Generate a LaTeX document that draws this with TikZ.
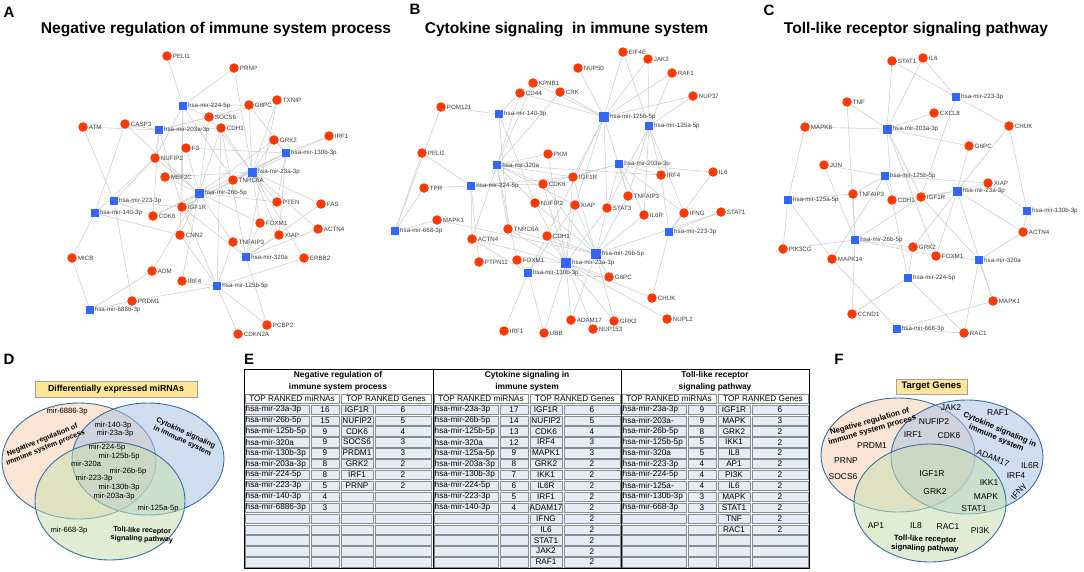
\documentclass[tikz,border=0pt]{standalone}
\usepackage{fontspec}
\setmainfont{Liberation Sans}
\usetikzlibrary{backgrounds}

\definecolor{genered}{HTML}{FF3A00}
\definecolor{mirblue}{HTML}{3366FF}
\definecolor{edgegray}{HTML}{CBCBCB}
\definecolor{labelgray}{HTML}{3C3C3C}
\definecolor{vennblue}{HTML}{3A6EA5}
\definecolor{negfill}{HTML}{F8D0B4}
\definecolor{cytfill}{HTML}{ADC3E4}
\definecolor{tollfill}{HTML}{C7E0B1}
\definecolor{boxyellow}{HTML}{FFE699}
\definecolor{boxgray}{HTML}{A0A0A0}
\definecolor{cellblue}{HTML}{E6ECF5}
\definecolor{gridgray}{HTML}{8C8C8C}

\tikzset{
  panelletter/.style={font=\fontsize{15}{17}\selectfont\bfseries, inner sep=0pt},
  paneltitle/.style={font=\fontsize{15.6}{18}\selectfont\bfseries, inner sep=0pt},
  netlbl/.style={font=\fontsize{6.2}{7}\selectfont, text=labelgray, inner sep=0.8pt},
  gene/.style={circle, fill=genered, inner sep=0pt, minimum size=#1},
  gene/.default=9.5pt,
  mirna/.style={rectangle, fill=mirblue, inner sep=0pt, minimum size=#1},
  mirna/.default=8pt,
  edge/.style={draw=edgegray, line width=0.5pt},
  venn/.style={draw=vennblue, line width=0.9pt, fill opacity=0.55},
  venntxt/.style={font=\fontsize{7.6}{9}\selectfont, inner sep=0pt},
  vennbold/.style={font=\fontsize{7.2}{8.4}\selectfont\bfseries, align=center, inner sep=0pt},
  ftxt/.style={font=\fontsize{8.5}{10}\selectfont, inner sep=0pt},
  fbold/.style={font=\fontsize{7.8}{9}\selectfont\bfseries, align=center, inner sep=0pt},
  keybox/.style={draw=boxgray, fill=boxyellow, line width=0.8pt, inner sep=0pt},
  cellline/.style={draw=gridgray, line width=0.4pt},
  tableframe/.style={draw=black, line width=0.8pt},
  tabtxt/.style={font=\fontsize{8.2}{9}\selectfont, inner sep=0pt},
  tabtitle/.style={font=\fontsize{8.4}{9}\selectfont\bfseries, inner sep=0pt},
}

\begin{document}
\begin{tikzpicture}[x=1pt, y=-1pt]
\useasboundingbox (0,0) rectangle (1084,571);

% panel letters and titles
\foreach \lt/\x/\y in {A/9/12, B/415/9, C/769/10, D/9/359, E/249/359, F/839/359}
  \node[panelletter] (let\lt) at (\x,\y) {\lt};
\node[paneltitle] (titleA) at (216,29) {Negative regulation of immune system process};
\node[paneltitle] (titleB) at (566.5,29) {Cytokine signaling\ \ in immune system};
\node[paneltitle] (titleC) at (916,29) {Toll-like receptor signaling pathway};

% A: negative regulation network
\foreach \nm/\x/\y/\lab/\sz in {224/183/106/hsa-mir-224-5p/8pt, 203a/159/130/hsa-mir-203a-3p/8pt,
    130b/286/153/hsa-mir-130b-3p/8pt, 23a/252/172/hsa-mir-23a-3p/9pt, 26b/199/193/hsa-mir-26b-5p/9pt,
    223/114/201/hsa-mir-223-3p/8pt, 140/95/213/hsa-mir-140-3p/7.5pt, 320a/246/257/hsa-mir-320a/8pt,
    125b/217/286/hsa-mir-125b-5p/8.5pt, 6886/90/310/hsa-mir-6886-3p/7.5pt}
  \node[mirna=\sz, label={[netlbl]right:\lab}] (a\nm) at (\x,\y) {};
\foreach \nm/\x/\y in {PELI1/167/56, PRNP/234/68, G6PC/249/105, TXNIP/277/100, SOCS6/209/117,
    ATM/83/127, CASP3/125/124, CDH1/221/128, GRK2/274/140, IRF1/329/136, F3/186/148,
    NUFIP2/155/158, MEF2C/165/177, TNRC6A/233/180, PTEN/277/202, FAS/321/204, IGF1R/182/207,
    CDK6/153/216, FOXM1/260/223, ACTN4/318/229, XIAP/279/235, CNN2/180/235, TNFAIP3/233/242,
    MICB/72/258, ERBB2/304/258, ADM/152/271, IRF4/182/281, PRDM1/132/301, PCBP2/267/325,
    CDKN2A/238/334}
  \node[gene, label={[netlbl]right:\nm}] (a\nm) at (\x,\y) {};

% B: cytokine signaling network
\foreach \nm/\x/\y/\lab/\sz in {140/499/114/hsa-mir-140-3p/8pt, 125b/604/117/hsa-mir-125b-5p/9.5pt,
    125a/649/126/hsa-mir-125a-5p/8pt, 320a/497/165/hsa-mir-320a/8.5pt, 203a/619/164/hsa-mir-203a-3p/8.5pt,
    224/471/186/hsa-mir-224-5p/8.5pt, 668/395/231/hsa-mir-668-3p/8pt, 223/669/232/hsa-mir-223-3p/8pt,
    26b/596/254/hsa-mir-26b-5p/9.5pt, 23a/566/263/hsa-mir-23a-3p/10pt, 130b/528/273/hsa-mir-130b-3p/8pt}
  \node[mirna=\sz, label={[netlbl]right:\lab}] (b\nm) at (\x,\y) {};
\foreach \nm/\x/\y in {EIF4E/623/52, JAK2/648/59, NUP50/578/68, RAF1/672/73, KPNB1/533/83,
    CD44/520/93, CRK/560/92, NUP37/693/96, POM121/441/107, PELI1/422/153, PKM/548/154,
    IGF1R/573/177, IRF4/661/175, IL6/713/172, TPR/424/188, CDK6/543/184, TNFAIP3/628/196,
    NUFIP2/535/203, XIAP/575/205, STAT3/607/208, IL6R/644/215, IFNG/684/213, STAT1/721/212,
    MAPK1/437/220, TNRC6A/508/229, CDH1/547/236, ACTN4/472/239, PTPN11/479/262, FOXM1/517/260,
    G6PC/609/277, CHUK/652/298, NUPL2/667/319, ADAM17/571/320, GRK2/614/321, NUP153/593/329,
    IRF1/504/331, UBB/544/333}
  \node[gene, label={[netlbl]right:\nm}] (b\nm) at (\x,\y) {};

% C: toll-like receptor network
\foreach \nm/\x/\y/\lab/\sz in {223/956/97/hsa-mir-223-3p/8pt, 203a/887/129/hsa-mir-203a-3p/9pt,
    125b/885/176/hsa-mir-125b-5p/8pt, 23a/957/191/hsa-mir-23a-3p/9pt, 125a/788/200/hsa-mir-125a-5p/8pt,
    130b/1027/211/hsa-mir-130b-3p/8pt, 26b/855/240/hsa-mir-26b-5p/8.5pt, 320a/979/260/hsa-mir-320a/8pt,
    224/908/278/hsa-mir-224-5p/8pt, 668/897/329/hsa-mir-668-3p/7.5pt}
  \node[mirna=\sz, label={[netlbl]right:\lab}] (c\nm) at (\x,\y) {};
\foreach \nm/\x/\y in {STAT1/892/61, IL6/923/58, TNF/847/102, CXCL8/934/113, MAPK8/805/127,
    CHUK/1009/126, G6PC/969/146, JUN/824/165, XIAP/988/183, TNFAIP3/853/194, CDH1/892/200,
    IGF1R/921/197, ACTN4/1023/232, GRK2/913/247, PIK3CG/783/249, FOXM1/936/256, MAPK14/832/259,
    MAPK1/993/301, CCND1/852/314, RAC1/964/333}
  \node[gene, label={[netlbl]right:\nm}] (c\nm) at (\x,\y) {};

\begin{pgfonlayer}{background}
  \fill[white] (0,0) rectangle (1084,571);
  \foreach \m/\gl in {224/{PELI1,PRNP,G6PC,SOCS6,NUFIP2,TNRC6A,CNN2,IGF1R},
      203a/{ATM,CASP3,CDH1,NUFIP2,IGF1R,CDK6,SOCS6,TXNIP},
      130b/{F3,IRF1,GRK2,TNRC6A,PTEN,XIAP,IGF1R,G6PC,CDK6},
      23a/{PRNP,G6PC,TXNIP,GRK2,IRF1,MEF2C,TNRC6A,PTEN,FAS,FOXM1,ACTN4,XIAP,ERBB2,SOCS6,CDH1,IGF1R},
      26b/{CASP3,F3,NUFIP2,MEF2C,CDH1,GRK2,IGF1R,PTEN,FOXM1,TNFAIP3,CNN2,CDK6,IRF4,ADM,SOCS6},
      223/{ATM,NUFIP2,IGF1R,PRDM1,CDK6},
      140/{MICB,CNN2,CASP3,NUFIP2},
      320a/{TNFAIP3,FOXM1,XIAP,ACTN4,FAS,PCBP2,IGF1R,CDH1,TXNIP},
      125b/{ERBB2,IRF4,PRDM1,PCBP2,CDKN2A,TNFAIP3,CNN2,IGF1R,CDH1},
      6886/{MICB,ADM,PRDM1}}
    \foreach \g in \gl \draw[edge] (a\m) -- (a\g);
  \foreach \m/\gl in {125b/{EIF4E,JAK2,NUP50,RAF1,NUP37,CRK,KPNB1,CD44,IGF1R,STAT3,XIAP,TNFAIP3,CDH1},
      125a/{EIF4E,JAK2,NUP37,RAF1,IRF4,IL6R,STAT3,TNFAIP3,IFNG},
      140/{POM121,CD44,NUFIP2,TNRC6A},
      320a/{KPNB1,CD44,CRK,PKM,CDK6,IGF1R,NUFIP2,TNRC6A,FOXM1,XIAP,ACTN4,IRF4},
      203a/{IGF1R,IRF4,TNFAIP3,STAT3,IL6R,IFNG,CDK6,IL6},
      224/{TPR,PELI1,CDK6,IGF1R,ACTN4,PTPN11},
      668/{POM121,TPR,MAPK1,PELI1},
      223/{IFNG,IL6,STAT1,CHUK,IRF4},
      26b/{IGF1R,CDK6,NUFIP2,XIAP,STAT3,CDH1,TNRC6A,MAPK1,IL6R,G6PC,GRK2,ADAM17,STAT1,TNFAIP3},
      23a/{PKM,IGF1R,NUFIP2,XIAP,CDH1,TNRC6A,ACTN4,FOXM1,G6PC,CHUK,NUPL2,ADAM17,GRK2,NUP153,UBB,CDK6,STAT3},
      130b/{IRF1,UBB,FOXM1,G6PC,ACTN4,CDH1,XIAP}}
    \foreach \g in \gl \draw[edge] (b\m) -- (b\g);
  \foreach \m/\gl in {203a/{STAT1,IL6,TNF,CXCL8,MAPK8,G6PC,IGF1R,CDH1,FOXM1},
      223/{STAT1,IL6,CHUK,IGF1R},
      23a/{CHUK,G6PC,XIAP,IGF1R,CDH1,ACTN4,GRK2,FOXM1,MAPK1},
      26b/{TNF,JUN,PIK3CG,TNFAIP3,IGF1R,GRK2,FOXM1,CCND1},
      125b/{TNFAIP3,CDH1,XIAP,JUN,MAPK14},
      320a/{ACTN4,FOXM1,MAPK1,IGF1R,RAC1},
      224/{GRK2,CDH1,CCND1,RAC1},
      125a/{MAPK8,PIK3CG,TNFAIP3,MAPK14},
      130b/{XIAP,ACTN4,CHUK},
      668/{MAPK14,RAC1,MAPK1}}
    \foreach \g in \gl \draw[edge] (c\m) -- (c\g);
\end{pgfonlayer}

% D: venn of miRNAs
\node[keybox, minimum width=162, minimum height=16, font=\fontsize{8.8}{10}\selectfont\bfseries]
  (dkey) at (116,389) {Differentially expressed miRNAs};
\draw[venn, fill=negfill] (79,461) ellipse [x radius=77, y radius=58];
\draw[venn, fill=cytfill] (148,459) ellipse [x radius=76, y radius=56];
\draw[venn, fill=tollfill] (110,501) ellipse [x radius=75, y radius=59];
\node[vennbold, rotate=22] (dneg) at (44,444) {Negative regulation of\\immune system process};
\node[vennbold, rotate=-25] (dcyt) at (184,437) {Cytokine signaling\\in immune system};
\node[vennbold, rotate=-2] (dtoll) at (142,535) {Toll-like receptor\\signaling pathway};
\foreach \nm/\x/\y in {6886-3p/67/412, 140-3p/113/426, 23a-3p/115/434, 224-5p/107/448,
    125b-5p/119/457, 320a/86/464, 26b-5p/128/472, 223-3p/94/479, 130b-3p/119/488,
    203a-3p/114/497, 125a-5p/158/509, 668-3p/69/531}
  \node[venntxt] (d\nm) at (\x,\y) {mir-\nm};

% E: table of top ranked miRNAs and genes
\foreach \sx in {244,433,621} {
  \draw[cellline] (\sx+0.8,393.8) rectangle (\sx+95.2,403.2);
  \draw[cellline] (\sx+96.8,393.8) rectangle (\sx+187.2,403.2);
  \foreach \rw in {0,...,14}
    \foreach \cl/\cr in {0/66,66/96,96/130,130/188}
      \draw[cellline, fill=cellblue] (\sx+\cl+0.8,404+\rw*10.9+0.8) rectangle (\sx+\cr-0.8,404+\rw*10.9+10.1);
}
\draw[tableframe] (244,369) rectangle (809,568);
\draw[tableframe] (433,369) -- (433,568) (621,369) -- (621,568);
\foreach \sx/\la/\lb/\k in {244/Negative regulation of/immune system process/1,
    433/Cytokine signaling in/immune system/2, 621/Toll-like receptor/signaling pathway/3} {
  \node[tabtitle] (ttop\k) at (\sx+94,375.5) {\la};
  \node[tabtitle] (tbot\k) at (\sx+94,387) {\lb};
  \node[tabtxt] (hmir\k) at (\sx+48,398.5) {TOP RANKED miRNAs};
  \node[tabtxt] (hgen\k) at (\sx+142,398.5) {TOP RANKED Genes};
}
\foreach \rw/\lab/\num in {1/hsa-mir-23a-3p/16, 2/hsa-mir-26b-5p/15, 3/hsa-mir-125b-5p/9,
    4/hsa-mir-320a/9, 5/hsa-mir-130b-3p/9, 6/hsa-mir-203a-3p/8, 7/hsa-mir-224-5p/8,
    8/hsa-mir-223-3p/5, 9/hsa-mir-140-3p/4, 10/hsa-mir-6886-3p/3} {
  \node[tabtxt, anchor=west] (emir1r\rw) at (245.5,398.55+\rw*10.9) {\lab};
  \node[tabtxt] (enum1r\rw) at (325,398.55+\rw*10.9) {\num};
}
\foreach \rw/\lab/\num in {1/IGF1R/6, 2/NUFIP2/5, 3/CDK6/4, 4/SOCS6/3, 5/PRDM1/3, 6/GRK2/2,
    7/IRF1/2, 8/PRNP/2} {
  \node[tabtxt] (egen1r\rw) at (357,398.55+\rw*10.9) {\lab};
  \node[tabtxt] (ecnt1r\rw) at (403,398.55+\rw*10.9) {\num};
}
\foreach \rw/\lab/\num in {1/hsa-mir-23a-3p/17, 2/hsa-mir-26b-5p/14, 3/hsa-mir-125b-5p/13,
    4/hsa-mir-320a/12, 5/hsa-mir-125a-5p/9, 6/hsa-mir-203a-3p/8, 7/hsa-mir-130b-3p/7,
    8/hsa-mir-224-5p/6, 9/hsa-mir-223-3p/5, 10/hsa-mir-140-3p/4} {
  \node[tabtxt, anchor=west] (emir2r\rw) at (434.5,398.55+\rw*10.9) {\lab};
  \node[tabtxt] (enum2r\rw) at (514,398.55+\rw*10.9) {\num};
}
\foreach \rw/\lab/\num in {1/IGF1R/6, 2/NUFIP2/5, 3/CDK6/4, 4/IRF4/3, 5/MAPK1/3, 6/GRK2/2,
    7/IKK1/2, 8/IL6R/2, 9/IRF1/2, 10/ADAM17/2, 11/IFNG/2, 12/IL6/2, 13/STAT1/2, 14/JAK2/2,
    15/RAF1/2} {
  \node[tabtxt] (egen2r\rw) at (546,398.55+\rw*10.9) {\lab};
  \node[tabtxt] (ecnt2r\rw) at (592,398.55+\rw*10.9) {\num};
}
\foreach \rw/\lab/\num in {1/hsa-mir-23a-3p/9, 2/hsa-mir-203a-/9, 3/hsa-mir-26b-5p/8,
    4/hsa-mir-125b-5p/5, 5/hsa-mir-320a/5, 6/hsa-mir-223-3p/4, 7/hsa-mir-224-5p/4,
    8/hsa-mir-125a-/4, 9/hsa-mir-130b-3p/3, 10/hsa-mir-668-3p/3} {
  \node[tabtxt, anchor=west] (emir3r\rw) at (622.5,398.55+\rw*10.9) {\lab};
  \node[tabtxt] (enum3r\rw) at (702,398.55+\rw*10.9) {\num};
}
\foreach \rw/\lab/\num in {1/IGF1R/6, 2/MAPK/3, 3/GRK2/2, 4/IKK1/2, 5/IL8/2, 6/AP1/2,
    7/PI3K/2, 8/IL6/2, 9/MAPK/2, 10/STAT1/2, 11/TNF/2, 12/RAC1/2} {
  \node[tabtxt] (egen3r\rw) at (734,398.55+\rw*10.9) {\lab};
  \node[tabtxt] (ecnt3r\rw) at (780,398.55+\rw*10.9) {\num};
}

% F: venn of target genes
\node[keybox, minimum width=71, minimum height=15, font=\fontsize{9.5}{11}\selectfont\bfseries]
  (fkey) at (931.5,386.5) {Target Genes};
\draw[venn, fill=negfill] (898,455) ellipse [x radius=77, y radius=57];
\draw[venn, fill=cytfill] (967,457) ellipse [x radius=76, y radius=57];
\draw[venn, fill=tollfill] (930,503) ellipse [x radius=76, y radius=59];
\node[fbold, rotate=16] (fneg) at (871,426) {Negative regulation of\\immune system process};
\node[fbold, rotate=-23] (fcyt) at (998,434) {Cytokine signaling in\\immune system};
\node[fbold, rotate=-2] (ftoll) at (925,544) {Toll-like receptor\\signaling pathway};
\foreach \nm/\x/\y in {PRDM1/872/446, PRNP/846/461, SOCS6/843/477, JAK2/951/408, RAF1/998/413,
    NUFIP2/934/422, IRF1/913/435, CDK6/949/436, IL6R/1030/466, IRF4/1016/476, IGF1R/932/474,
    IKK1/989/483, GRK2/935/492, MAPK/986/497, STAT1/974/509, AP1/876/526, IL8/916/526,
    RAC1/948/527, PI3K/980/531}
  \node[ftxt] (f\nm) at (\x,\y) {\nm};
\node[ftxt, rotate=-22] (fADAM17) at (993,458) {ADAM17};
\node[ftxt, rotate=50] (fIFNg) at (1019,492) {IFNγ};
\end{tikzpicture}
\end{document}
